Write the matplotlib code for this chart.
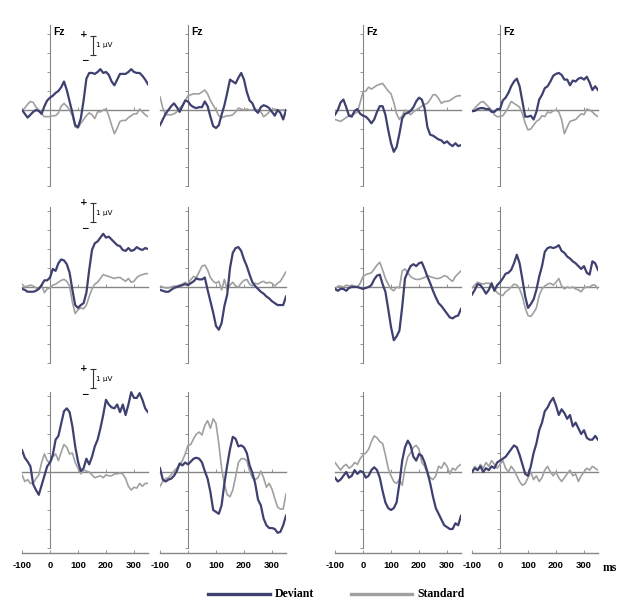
import matplotlib
matplotlib.use('Agg')
import matplotlib.pyplot as plt
from matplotlib.lines import Line2D

# time axis (ms)
times = list(range(-100, 351, 10))

# row 1
dev_11 = [0.0,-0.2,-0.4,-0.25,-0.1,0.0,-0.05,-0.2,0.2,0.5, 0.65,0.75,0.9,1.0,1.2,1.5,1.05,0.45,-0.15,-0.8, -0.9,-0.45,0.5,1.65,1.95,1.95,1.9,2.0,2.15,1.95, 2.0,1.85,1.5,1.3,1.6,1.9,1.9,1.9,2.0,2.15, 2.0,1.95,1.95,1.8,1.6,1.35]
std_11 = [0.0,0.1,0.3,0.45,0.4,0.15,0.0,-0.2,-0.35,-0.35, -0.35,-0.3,-0.3,-0.15,0.2,0.35,0.2,0.0,-0.3,-0.9, -0.95,-0.7,-0.5,-0.3,-0.15,-0.25,-0.45,-0.1,-0.1,0.0, 0.05,-0.3,-0.8,-1.25,-0.95,-0.6,-0.55,-0.55,-0.4,-0.3, -0.2,-0.2,0.05,-0.1,-0.25,-0.35]
dev_12 = [-0.8,-0.5,-0.2,0.0,0.2,0.35,0.15,-0.1,0.2,0.5, 0.45,0.25,0.15,0.1,0.15,0.15,0.45,0.2,-0.35,-0.85, -0.95,-0.8,-0.25,0.25,0.9,1.6,1.5,1.4,1.7,1.95, 1.6,0.95,0.5,0.35,0.0,-0.15,0.15,0.25,0.2,0.1, -0.1,-0.3,0.0,-0.15,-0.5,0.0]
std_12 = [0.7,0.1,-0.25,-0.25,-0.25,-0.2,-0.1,0.1,0.25,0.5, 0.75,0.8,0.85,0.85,0.85,0.95,1.05,0.85,0.5,0.25, 0.0,-0.3,-0.4,-0.35,-0.3,-0.3,-0.25,-0.1,0.1,0.05, 0.0,0.05,0.0,0.0,0.05,0.0,-0.1,-0.35,-0.25,-0.1, 0.0,0.05,0.0,0.0,0.0,0.0]
dev_13 = [-0.25,0.0,0.4,0.55,0.15,-0.3,-0.35,-0.05,0.05,-0.2, -0.3,-0.35,-0.5,-0.7,-0.5,-0.1,0.2,0.2,-0.25,-1.05, -1.75,-2.2,-1.95,-1.25,-0.45,-0.2,-0.15,-0.05,0.15,0.45, 0.65,0.55,0.1,-0.9,-1.3,-1.35,-1.45,-1.55,-1.6,-1.75, -1.65,-1.8,-1.9,-1.75,-1.9,-1.85]
std_13 = [-0.5,-0.55,-0.6,-0.5,-0.4,-0.3,-0.25,-0.2,-0.1,0.4, 0.95,1.0,1.2,1.1,1.2,1.3,1.35,1.4,1.2,1.0, 0.85,0.4,-0.2,-0.5,-0.3,0.0,-0.1,-0.25,-0.1,0.0, 0.1,0.2,0.3,0.35,0.55,0.8,0.8,0.6,0.35,0.45, 0.45,0.5,0.6,0.7,0.75,0.75]
dev_14 = [-0.05,-0.05,0.05,0.1,0.1,0.05,0.05,-0.1,-0.1,0.05, 0.05,0.5,0.65,0.9,1.25,1.5,1.65,1.25,0.45,-0.35, -0.35,-0.3,-0.5,-0.1,0.55,0.8,1.15,1.25,1.5,1.8, 1.9,1.95,1.85,1.6,1.6,1.3,1.55,1.5,1.65,1.7, 1.6,1.75,1.45,1.05,1.25,1.05]
std_14 = [-0.1,0.1,0.25,0.4,0.45,0.3,0.15,0.0,-0.25,-0.35, -0.35,-0.3,-0.1,0.15,0.45,0.35,0.25,0.15,-0.2,-0.7, -1.05,-1.0,-0.8,-0.6,-0.5,-0.3,-0.35,-0.1,-0.15,-0.05, 0.0,-0.1,-0.5,-1.25,-0.9,-0.6,-0.55,-0.5,-0.35,-0.2, -0.25,0.05,0.0,-0.1,-0.25,-0.35]

# row 2
dev_21 = [-0.1,-0.15,-0.25,-0.25,-0.25,-0.2,-0.1,0.1,0.35,0.35, 0.5,0.95,0.85,1.25,1.45,1.4,1.2,0.75,-0.15,-0.95, -1.1,-0.95,-0.85,-0.3,0.9,1.95,2.3,2.4,2.6,2.8, 2.6,2.65,2.5,2.35,2.2,2.15,1.95,1.9,2.05,1.9, 1.95,2.1,2.0,1.95,2.05,2.0]
std_21 = [0.15,0.0,0.05,0.1,0.05,-0.05,-0.1,0.1,-0.3,-0.1, -0.05,0.1,0.15,0.25,0.35,0.4,0.3,0.05,-0.8,-1.4, -1.2,-1.1,-1.15,-0.95,-0.5,-0.1,0.15,0.25,0.45,0.65, 0.6,0.55,0.5,0.45,0.5,0.5,0.4,0.3,0.45,0.25, 0.3,0.5,0.6,0.65,0.7,0.7]
dev_22 = [-0.15,-0.2,-0.25,-0.25,-0.15,-0.05,0.0,0.05,0.1,0.15, 0.1,0.2,0.3,0.45,0.4,0.4,0.5,-0.15,-0.75,-1.35, -2.05,-2.25,-1.9,-1.0,-0.4,1.0,1.8,2.05,2.1,1.9, 1.45,1.1,0.65,0.25,0.05,-0.1,-0.25,-0.35,-0.5,-0.6, -0.75,-0.85,-0.95,-0.95,-0.95,-0.5]
std_22 = [0.05,0.0,-0.05,-0.05,0.0,0.05,0.05,0.1,0.15,0.25, 0.15,0.4,0.55,0.5,0.8,1.1,1.15,0.9,0.5,0.3, 0.2,0.3,-0.15,0.4,-0.15,0.1,0.25,0.05,0.0,0.2, 0.35,0.4,0.15,0.05,0.2,0.15,0.25,0.3,0.2,0.25, 0.2,0.05,0.2,0.3,0.55,0.8]
dev_23 = [-0.1,-0.2,-0.1,-0.1,-0.2,-0.05,0.0,0.0,0.0,-0.05, -0.1,-0.05,0.0,0.1,0.4,0.6,0.65,0.15,-0.25,-1.15, -2.1,-2.8,-2.6,-2.3,-1.05,0.45,0.8,1.1,1.2,1.1, 1.25,1.3,0.95,0.55,0.2,-0.2,-0.55,-0.85,-1.0,-1.2, -1.4,-1.6,-1.65,-1.55,-1.5,-1.15]
std_23 = [-0.15,0.05,0.05,0.0,0.1,0.05,0.1,0.05,0.0,0.2, 0.55,0.65,0.7,0.75,0.95,1.15,1.3,0.9,0.45,0.15, -0.1,-0.2,0.0,-0.05,0.85,0.95,0.75,0.55,0.45,0.4, 0.4,0.45,0.5,0.6,0.55,0.5,0.45,0.45,0.5,0.6, 0.55,0.4,0.3,0.55,0.7,0.85]
dev_24 = [-0.4,-0.15,0.15,0.1,-0.1,-0.35,-0.15,0.2,-0.2,0.1, 0.25,0.45,0.7,0.75,0.9,1.25,1.7,1.25,0.4,-0.5, -1.1,-0.9,-0.65,-0.15,0.55,1.1,1.85,2.05,2.1,2.05, 2.1,2.2,1.9,1.8,1.6,1.5,1.35,1.25,1.1,0.95, 1.1,0.75,0.65,1.35,1.25,0.9]
std_24 = [-0.05,0.1,0.25,0.2,0.15,0.2,0.2,0.1,-0.1,-0.3, -0.4,-0.45,-0.25,-0.15,0.0,0.15,0.1,-0.1,-0.5,-1.1, -1.5,-1.55,-1.35,-1.1,-0.45,-0.1,0.05,0.15,0.2,0.1, 0.25,0.45,0.05,-0.1,0.0,-0.05,0.0,-0.1,-0.15,-0.25, -0.05,0.0,0.0,0.1,0.1,-0.1]

# row 3
dev_31 = [1.15,0.75,0.55,0.3,-0.65,-0.95,-1.2,-0.7,-0.2,0.3, 0.5,0.9,1.7,1.9,2.55,3.2,3.35,3.15,2.4,1.35, 0.55,0.05,0.2,0.7,0.4,0.8,1.35,1.7,2.3,3.0, 3.8,3.55,3.4,3.35,3.55,3.15,3.55,3.0,3.55,4.2, 3.9,3.9,4.15,3.8,3.35,3.15]
std_31 = [-0.15,-0.5,-0.4,-0.6,-0.6,-0.35,-0.15,0.5,0.95,0.6, 0.45,0.8,0.95,0.6,1.05,1.45,1.3,0.95,1.0,0.5, 0.2,-0.1,0.1,0.05,0.0,-0.15,-0.3,-0.25,-0.2,-0.3, -0.15,-0.2,-0.2,-0.1,-0.1,-0.05,-0.1,-0.35,-0.75,-0.95, -0.8,-0.85,-0.6,-0.75,-0.6,-0.6]
dev_32 = [0.2,-0.4,-0.5,-0.4,-0.35,-0.2,0.05,0.45,0.35,0.5, 0.4,0.55,0.7,0.75,0.7,0.5,0.05,-0.35,-1.05,-2.0, -2.1,-2.2,-1.75,-0.6,0.35,1.2,1.85,1.75,1.35,1.4, 1.3,1.0,0.35,-0.05,-0.6,-1.45,-1.75,-2.45,-2.8,-2.95, -2.95,-3.0,-3.2,-3.15,-2.8,-2.3]
std_32 = [-0.75,-0.5,-0.35,-0.3,-0.15,0.05,0.2,0.35,0.6,0.95, 1.4,1.45,1.75,2.0,2.1,1.95,2.45,2.7,2.3,2.8, 2.55,1.5,0.2,-0.65,-1.2,-1.3,-0.95,-0.25,0.5,0.7, 0.7,0.6,0.05,-0.3,-0.4,-0.3,0.05,-0.3,-0.8,-0.6, -0.9,-1.4,-1.85,-1.95,-1.95,-1.15]
dev_33 = [-0.3,-0.5,-0.4,-0.2,0.0,-0.3,-0.2,0.1,-0.1,0.05, 0.0,-0.3,-0.2,0.1,0.25,0.1,-0.3,-1.0,-1.6,-1.9, -2.0,-1.9,-1.6,-0.6,0.6,1.3,1.65,1.4,0.8,0.6, 0.95,0.85,0.5,0.0,-0.6,-1.3,-1.9,-2.2,-2.5,-2.8, -2.9,-3.0,-3.0,-2.7,-2.8,-2.3]
std_33 = [0.5,0.3,0.1,0.3,0.4,0.2,0.3,0.5,0.4,0.7, 0.9,1.0,1.2,1.6,1.9,1.8,1.6,1.5,0.9,0.2, -0.2,-0.5,-0.6,-0.4,-0.7,0.2,0.8,1.0,1.3,1.4, 1.2,0.5,0.3,-0.1,-0.3,-0.4,-0.2,0.3,0.2,0.5, 0.3,-0.1,0.2,0.1,0.3,0.4]
dev_34 = [0.0,0.2,0.1,0.3,0.0,0.2,0.1,0.3,0.2,0.5, 0.6,0.7,0.8,1.0,1.2,1.4,1.3,0.9,0.4,-0.1, -0.2,0.3,1.0,1.5,2.2,2.6,3.2,3.4,3.7,3.9, 3.5,3.0,3.3,3.1,2.8,3.0,2.4,2.6,2.3,2.0, 2.2,1.8,1.7,1.7,1.9,1.7]
std_34 = [0.0,0.3,0.1,0.4,0.2,0.5,0.3,0.6,0.4,0.2, 0.4,0.6,0.2,0.0,0.3,0.1,-0.2,-0.5,-0.7,-0.6, -0.3,0.0,-0.4,-0.2,-0.5,-0.3,0.1,0.3,0.0,-0.2, 0.0,-0.3,-0.5,-0.3,-0.1,0.1,-0.2,-0.1,-0.5,-0.2, 0.0,0.2,0.1,0.3,0.2,0.1]

deviant = [[dev_11, dev_12, dev_13, dev_14],
           [dev_21, dev_22, dev_23, dev_24],
           [dev_31, dev_32, dev_33, dev_34]]
standard = [[std_11, std_12, std_13, std_14],
            [std_21, std_22, std_23, std_24],
            [std_31, std_32, std_33, std_34]]

x_ticks = [-100, 0, 100, 200, 300]

# layout in pixels
W, H = 632, 613
col_zero = [50, 188, 363, 500]     # x pixel of 0 ms
row_zero = [110, 287, 472]         # y pixel of 0 uV
px_ms = 0.28
px_uv = 19.0
ylo, yhi = -4.3, 4.6
axis_top = [4.47, 4.2, 4.2]

dev_color = '#3e4070'
std_color = '#a0a0a0'
axis_color = '#858585'

fig = plt.figure(figsize=(W / 100, H / 100), dpi=100)
fig.patch.set_facecolor('white')


def add_px_axes(x_left, y_top, w, h):
    return fig.add_axes([x_left / W, 1 - (y_top + h) / H, w / W, h / H])


for r in range(3):
    for c in range(4):
        x0 = col_zero[c] - 100 * px_ms
        y0 = row_zero[r] - yhi * px_uv
        ax = add_px_axes(x0, y0, 450 * px_ms, (yhi - ylo) * px_uv)
        ax.set_xlim(-100, 350)
        ax.set_ylim(ylo, yhi)
        ax.patch.set_alpha(0)
        for s in ['top', 'right']:
            ax.spines[s].set_visible(False)
        ax.spines['left'].set_position(('data', 0))
        ax.spines['left'].set_bounds(-4, axis_top[r])
        ax.spines['bottom'].set_position(('data', 0))
        for s in ['left', 'bottom']:
            ax.spines[s].set_color(axis_color)
        ax.spines['left'].set_linewidth(0.8)
        ax.spines['bottom'].set_linewidth(1.0)
        ax.set_yticks(range(-4, 5))
        ax.set_xticks([100, 200, 300])
        ax.tick_params(axis='y', direction='out', length=2, width=0.6,
                       color=axis_color, labelleft=False)
        ax.tick_params(axis='x', direction='in', length=2, width=0.6,
                       color=axis_color, labelbottom=False)

        ax.plot(times, standard[r][c], color=std_color, lw=1.2, zorder=3)
        ax.plot(times, deviant[r][c], color=dev_color, lw=1.6, zorder=4)

        if r == 0:
            ax.text(10, 4.1, 'Fz', fontsize=7.5, fontweight='bold',
                    family='Liberation Sans', va='center', ha='left')

        if c == 0:
            # 1 uV scale bar
            bar_top = [3.9, 4.4, 5.4][r]
            ax.plot([154, 154], [bar_top - 1, bar_top], color='#333333',
                    lw=0.8, clip_on=False)
            ax.plot([154, 154], [bar_top - 1, bar_top], ls='none',
                    marker='_', ms=4, mew=0.8, color='#333333', clip_on=False)
            ax.text(120, bar_top + 0.05, '+', fontsize=6.5, fontweight='bold',
                    ha='center', va='center', clip_on=False)
            ax.text(124, bar_top - 1.3, '\u2212', fontsize=6.5, fontweight='bold',
                    ha='center', va='center', clip_on=False)
            ax.text(166, bar_top - 0.5, '1 \u00b5V', fontsize=5.2,
                    ha='left', va='center', clip_on=False)

# bottom time axis for each column
for c in range(4):
    x0 = col_zero[c] - 100 * px_ms
    bx = add_px_axes(x0, 552, 450 * px_ms, 1)
    bx.set_xlim(-100, 350)
    bx.patch.set_alpha(0)
    for s in ['top', 'right', 'left']:
        bx.spines[s].set_visible(False)
    bx.spines['bottom'].set_color(axis_color)
    bx.spines['bottom'].set_linewidth(1.0)
    bx.set_yticks([])
    bx.set_xticks(x_ticks)
    bx.set_xticklabels([str(t) for t in x_ticks], fontsize=6.8,
                       fontweight='bold', family='Liberation Sans')
    bx.tick_params(axis='x', direction='in', length=2.5, width=0.6,
                   color=axis_color, pad=6)

fig.text(610 / W, 1 - 568 / H, 'ms', fontsize=8.5, fontweight='bold',
         family='Liberation Serif', ha='center', va='center')

# legend
fig.add_artist(Line2D([208 / W, 270 / W], [1 - 594 / H] * 2, color=dev_color, lw=2.4))
fig.text(275 / W, 1 - 594 / H, 'Deviant', fontsize=8.5, fontweight='bold',
         family='Liberation Serif', ha='left', va='center')
fig.add_artist(Line2D([351 / W, 412 / W], [1 - 594 / H] * 2, color=std_color, lw=2.4))
fig.text(417 / W, 1 - 594 / H, 'Standard', fontsize=8.5, fontweight='bold',
         family='Liberation Serif', ha='left', va='center')

fig.savefig('out.png', dpi=100)
